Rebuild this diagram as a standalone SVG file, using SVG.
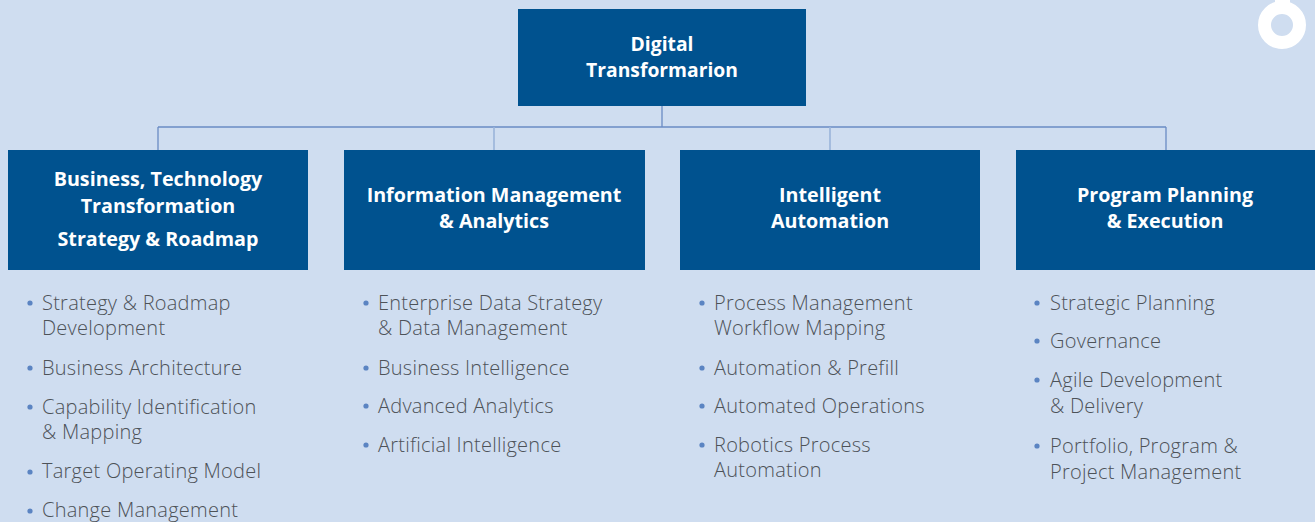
<svg xmlns="http://www.w3.org/2000/svg" width="1315" height="522" viewBox="0 0 1315 522">
<style>
.box{fill:#00528f}
.t{font-family:"Open Sans","Noto Sans","Liberation Sans",sans-serif;font-weight:700;font-size:19.7px;fill:#ffffff;text-anchor:middle}
.t0{font-size:19.3px}
.b{font-family:"Open Sans","Noto Sans","Liberation Sans",sans-serif;font-weight:300;font-size:20px;letter-spacing:0.25px;fill:#4d5258}
.dot{fill:#5b84c2}
.ln{stroke:#6b8cc4;stroke-width:1.3;fill:none}
.lt{stroke:#9ab4da;stroke-width:1.6;fill:none}
</style>
<rect width="1315" height="522" fill="#cfddf0"/>
<g id="logo">
<circle cx="1282" cy="25" r="17.5" fill="none" stroke="#ffffff" stroke-width="13"/>
<rect x="1275" y="0" width="15" height="4" fill="#ffffff"/>
</g>
<g id="connectors">
<path class="ln" d="M662 106V127M158 127H1166M158 127V150M1166 127V150"/>
<path class="lt" d="M494 127V150M830 127V150"/>
</g>
<g id="root">
<rect class="box" x="518" y="9" width="288" height="97"/>
<text class="t t0" x="662" y="51">Digital</text>
<text class="t t0" x="662" y="77">Transformarion</text>
</g>
<g id="n1">
<rect class="box" x="8" y="150" width="300" height="120"/>
<text class="t" x="158" y="186">Business, Technology</text>
<text class="t" x="158" y="213">Transformation</text>
<text class="t" x="158" y="246">Strategy &amp; Roadmap</text>
</g>
<g id="n2">
<rect class="box" x="344" y="150" width="301" height="120"/>
<text class="t" x="494" y="202">Information Management</text>
<text class="t" x="494" y="228">&amp; Analytics</text>
</g>
<g id="n3">
<rect class="box" x="680" y="150" width="300" height="120"/>
<text class="t" x="830" y="202">Intelligent</text>
<text class="t" x="830" y="228">Automation</text>
</g>
<g id="n4">
<rect class="box" x="1016" y="150" width="299" height="120"/>
<text class="t" x="1165" y="202">Program Planning</text>
<text class="t" x="1165" y="228">&amp; Execution</text>
</g>
<g id="list1">
<circle class="dot" cx="30" cy="303" r="2.6"/>
<circle class="dot" cx="30" cy="368" r="2.6"/>
<circle class="dot" cx="30" cy="407" r="2.6"/>
<circle class="dot" cx="30" cy="472" r="2.6"/>
<circle class="dot" cx="30" cy="511" r="2.6"/>
<text class="b" x="42" y="310">Strategy &amp; Roadmap</text>
<text class="b" x="42" y="335">Development</text>
<text class="b" x="42" y="375">Business Architecture</text>
<text class="b" x="42" y="414">Capability Identification</text>
<text class="b" x="42" y="439">&amp; Mapping</text>
<text class="b" x="42" y="478">Target Operating Model</text>
<text class="b" x="42" y="517">Change Management</text>
</g>
<g id="list2">
<circle class="dot" cx="366" cy="303" r="2.6"/>
<circle class="dot" cx="366" cy="368" r="2.6"/>
<circle class="dot" cx="366" cy="406" r="2.6"/>
<circle class="dot" cx="366" cy="445" r="2.6"/>
<text class="b" x="378" y="310">Enterprise Data Strategy</text>
<text class="b" x="378" y="335">&amp; Data Management</text>
<text class="b" x="378" y="375">Business Intelligence</text>
<text class="b" x="378" y="413">Advanced Analytics</text>
<text class="b" x="378" y="452">Artificial Intelligence</text>
</g>
<g id="list3">
<circle class="dot" cx="702" cy="303" r="2.6"/>
<circle class="dot" cx="702" cy="368" r="2.6"/>
<circle class="dot" cx="702" cy="406" r="2.6"/>
<circle class="dot" cx="702" cy="445" r="2.6"/>
<text class="b" x="714" y="310">Process Management</text>
<text class="b" x="714" y="335">Workflow Mapping</text>
<text class="b" x="714" y="375">Automation &amp; Prefill</text>
<text class="b" x="714" y="413">Automated Operations</text>
<text class="b" x="714" y="452">Robotics Process</text>
<text class="b" x="714" y="477">Automation</text>
</g>
<g id="list4">
<circle class="dot" cx="1037" cy="303" r="2.6"/>
<circle class="dot" cx="1037" cy="341" r="2.6"/>
<circle class="dot" cx="1037" cy="380" r="2.6"/>
<circle class="dot" cx="1037" cy="446" r="2.6"/>
<text class="b" x="1050" y="310">Strategic Planning</text>
<text class="b" x="1050" y="348">Governance</text>
<text class="b" x="1050" y="387">Agile Development</text>
<text class="b" x="1050" y="413">&amp; Delivery</text>
<text class="b" x="1050" y="453">Portfolio, Program &amp;</text>
<text class="b" x="1050" y="479">Project Management</text>
</g>
</svg>
